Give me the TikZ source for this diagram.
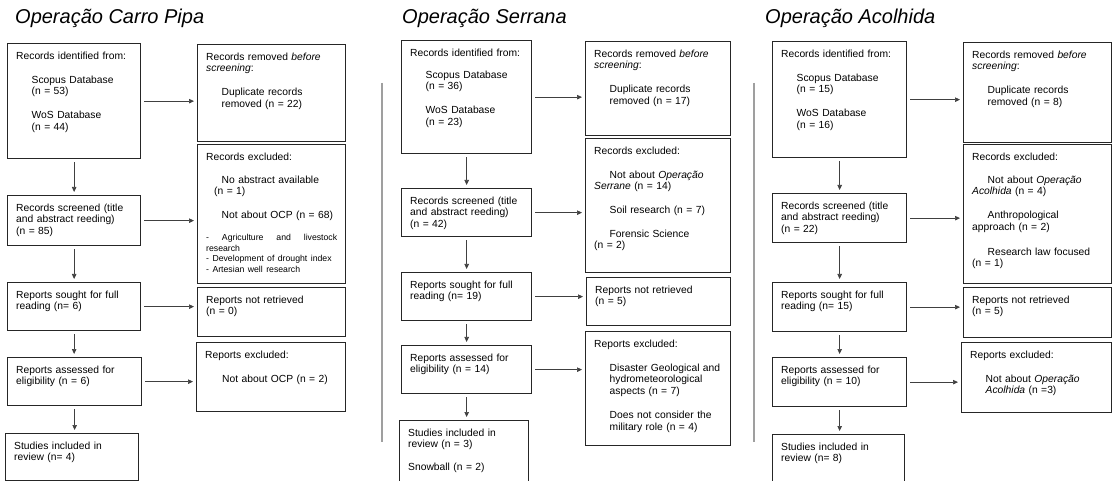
\documentclass[tikz,border=0pt]{standalone}
\usepackage{fontspec}
\setmainfont{Liberation Sans}
\usepackage{tikz}
\usetikzlibrary{arrows.meta, positioning}

\newcommand{\indt}{\hspace*{15.5pt}}

\tikzset{
    box/.style={draw=black!85, line width=1.3pt, anchor=north west, inner sep=0pt},
    txt/.style={anchor=north west, inner xsep=9pt, inner ysep=8.5pt, text width=136pt, align=left},
    arr/.style={-{Triangle[length=5pt,width=4.5pt]}, draw=black!75, line width=0.7pt, shorten <=3pt, shorten >=3pt},
    ttl/.style={anchor=west, inner sep=0pt, font=\fontsize{20}{22}\selectfont\itshape},
    divider/.style={draw=gray!75, line width=1.2pt}
}

\begin{document}
\begin{tikzpicture}[x=1pt, y=-1pt, font=\fontsize{10.3}{11.6}\selectfont]
    \useasboundingbox (0,0) rectangle (1112,481);

    % 标题
    \node[ttl] (cT) at (15,18) {Operação Carro Pipa};
    \node[ttl] (sT) at (402,18) {Operação Serrana};
    \node[ttl] (aT) at (765,18) {Operação Acolhida};

    % 分隔线
    \draw[divider] (382,83) -- (382,442);
    \draw[divider] (754,83) -- (754,442);

    % Carro Pipa
    \node[box, minimum width=133pt, minimum height=115pt] (cA1) at (7,43) {};
    \node[txt] (cA1t) at (cA1.north west) {Records identified from:\\[12.5pt] \indt Scopus Database\\ \indt (n = 53)\\[12.5pt] \indt WoS Database\\ \indt (n = 44)};
    \node[box, minimum width=148pt, minimum height=97pt] (cB1) at (197,44) {};
    \node[txt] (cB1t) at (cB1.north west) {Records removed \textit{before}\\ \textit{screening}:\\[12.5pt] \indt Duplicate records\\ \indt removed (n = 22)};
    \node[box, minimum width=148pt, minimum height=139pt] (cC1) at (197,144) {};
    \node[txt] (cC1t) at (cC1.north west) {Records excluded:\\[11.5pt] \indt No abstract available\\ \hspace*{8pt}(n = 1)\\[12.5pt] \indt Not about OCP (n = 68)\par\vspace{11.5pt}
        {\fontsize{8.7}{10.4}\selectfont\makebox[131pt][s]{-\hfill Agriculture\hfill and\hfill livestock}\\ research\\ - Development of drought index\\ - Artesian well research\par}};
    \node[box, minimum width=133pt, minimum height=50pt] (cA2) at (7,195) {};
    \node[txt] (cA2t) at (cA2.north west) {Records screened (title\\ and abstract reeding)\\ (n = 85)};
    \node[box, minimum width=133pt, minimum height=48pt] (cA3) at (7,282) {};
    \node[txt] (cA3t) at (cA3.north west) {Reports sought for full\\ reading (n= 6)};
    \node[box, minimum width=148pt, minimum height=49pt] (cB3) at (197,287) {};
    \node[txt] (cB3t) at (cB3.north west) {Reports not retrieved\\ (n = 0)};
    \node[box, minimum width=134pt, minimum height=48pt] (cA4) at (7,357) {};
    \node[txt] (cA4t) at (cA4.north west) {Reports assessed for\\ eligibility (n = 6)};
    \node[box, minimum width=149pt, minimum height=69pt] (cB4) at (196,342) {};
    \node[txt] (cB4t) at (cB4.north west) {Reports excluded:\\[13pt] \hspace*{17pt}Not about OCP (n = 2)};
    \node[box, minimum width=133pt, minimum height=47pt] (cA5) at (5,433) {};
    \node[txt] (cA5t) at (cA5.north west) {Studies included in\\ review (n= 4)};

    % Serrana
    \node[box, minimum width=130pt, minimum height=113pt] (sA1) at (401,40) {};
    \node[txt] (sA1t) at (sA1.north west) {Records identified from:\\[10.5pt] \indt Scopus Database\\ \indt (n = 36)\\[12.5pt] \indt WoS Database\\ \indt (n = 23)};
    \node[box, minimum width=145pt, minimum height=94pt] (sB1) at (585,41) {};
    \node[txt] (sB1t) at (sB1.north west) {Records removed \textit{before}\\ \textit{screening}:\\[12.5pt] \indt Duplicate records\\ \indt removed (n = 17)};
    \node[box, minimum width=145pt, minimum height=134pt] (sC1) at (585,138) {};
    \node[txt] (sC1t) at (sC1.north west) {Records excluded:\\[12.5pt] \indt Not about \textit{Operação}\\ \textit{Serrane} (n = 14)\\[12pt] \indt Soil research (n = 7)\\[12pt] \indt Forensic Science\\ (n = 2)};
    \node[box, minimum width=130pt, minimum height=48pt] (sA2) at (401,188) {};
    \node[txt] (sA2t) at (sA2.north west) {Records screened (title\\ and abstract reeding)\\ (n = 42)};
    \node[box, minimum width=130pt, minimum height=48pt] (sA3) at (401,272) {};
    \node[txt] (sA3t) at (sA3.north west) {Reports sought for full\\ reading (n= 19)};
    \node[box, minimum width=144pt, minimum height=48pt] (sB3) at (586,277) {};
    \node[txt] (sB3t) at (sB3.north west) {Reports not retrieved\\ (n = 5)};
    \node[box, minimum width=130pt, minimum height=48pt] (sA4) at (401,345) {};
    \node[txt] (sA4t) at (sA4.north west) {Reports assessed for\\ eligibility (n = 14)};
    \node[box, minimum width=145pt, minimum height=114pt] (sB4) at (585,331) {};
    \node[txt] (sB4t) at (sB4.north west) {Reports excluded:\\[12.5pt] \indt Disaster Geological and\\ \indt hydrometeorological\\ \indt aspects (n = 7)\\[12.5pt] \indt Does not consider the\\ \indt military role (n = 4)};
    \node[box, minimum width=129pt, minimum height=66pt] (sA5) at (399,420) {};
    \node[txt] (sA5t) at (sA5.north west) {Studies included in\\ review (n = 3)\\[11.5pt] Snowball (n = 2)};

    % Acolhida
    \node[box, minimum width=134pt, minimum height=116pt] (aA1) at (772,41) {};
    \node[txt] (aA1t) at (aA1.north west) {Records identified from:\\[12.5pt] \indt Scopus Database\\ \indt (n = 15)\\[12.5pt] \indt WoS Database\\ \indt (n = 16)};
    \node[box, minimum width=148pt, minimum height=100pt] (aB1) at (963,42) {};
    \node[txt] (aB1t) at (aB1.north west) {Records removed \textit{before}\\ \textit{screening}:\\[12.5pt] \indt Duplicate records\\ \indt removed (n = 8)};
    \node[box, minimum width=148pt, minimum height=139pt] (aC1) at (963,144) {};
    \node[txt] (aC1t) at (aC1.north west) {Records excluded:\\[11.5pt] \indt Not about \textit{Operação}\\ \textit{Acolhida} (n = 4)\\[12.5pt] \indt Anthropological\\ approach (n = 2)\\[13pt] \indt Research law focused\\ (n = 1)};
    \node[box, minimum width=134pt, minimum height=49pt] (aA2) at (772,193) {};
    \node[txt] (aA2t) at (aA2.north west) {Records screened (title\\ and abstract reeding)\\ (n = 22)};
    \node[box, minimum width=134pt, minimum height=49pt] (aA3) at (772,282) {};
    \node[txt] (aA3t) at (aA3.north west) {Reports sought for full\\ reading (n= 15)};
    \node[box, minimum width=148pt, minimum height=50pt] (aB3) at (963,287) {};
    \node[txt] (aB3t) at (aB3.north west) {Reports not retrieved\\ (n = 5)};
    \node[box, minimum width=134pt, minimum height=49pt] (aA4) at (772,357) {};
    \node[txt] (aA4t) at (aA4.north west) {Reports assessed for\\ eligibility (n = 10)};
    \node[box, minimum width=150pt, minimum height=70pt] (aB4) at (961,342) {};
    \node[txt] (aB4t) at (aB4.north west) {Reports excluded:\\[12.5pt] \indt Not about \textit{Operação}\\ \indt \textit{Acolhida} (n =3)};
    \node[box, minimum width=132pt, minimum height=47pt] (aA5) at (772,434) {};
    \node[txt] (aA5t) at (aA5.north west) {Studies included in\\ review (n= 8)};

    % 箭头
    \foreach \p in {c,s,a} {
        \draw[arr] (\p A1.south) -- (\p A1.south |- \p A2.north);
        \draw[arr] (\p A2.south) -- (\p A2.south |- \p A3.north);
        \draw[arr] (\p A3.south) -- (\p A3.south |- \p A4.north);
        \draw[arr] (\p A4.south) -- (\p A4.south |- \p A5.north);
        \draw[arr] (\p A1.east) -- (\p A1.east -| \p B1.west);
        \draw[arr] (\p A2.east) -- (\p A2.east -| \p C1.west);
        \draw[arr] (\p A3.east) -- (\p A3.east -| \p B3.west);
        \draw[arr] (\p A4.east) -- (\p A4.east -| \p B4.west);
    }
\end{tikzpicture}
\end{document}
